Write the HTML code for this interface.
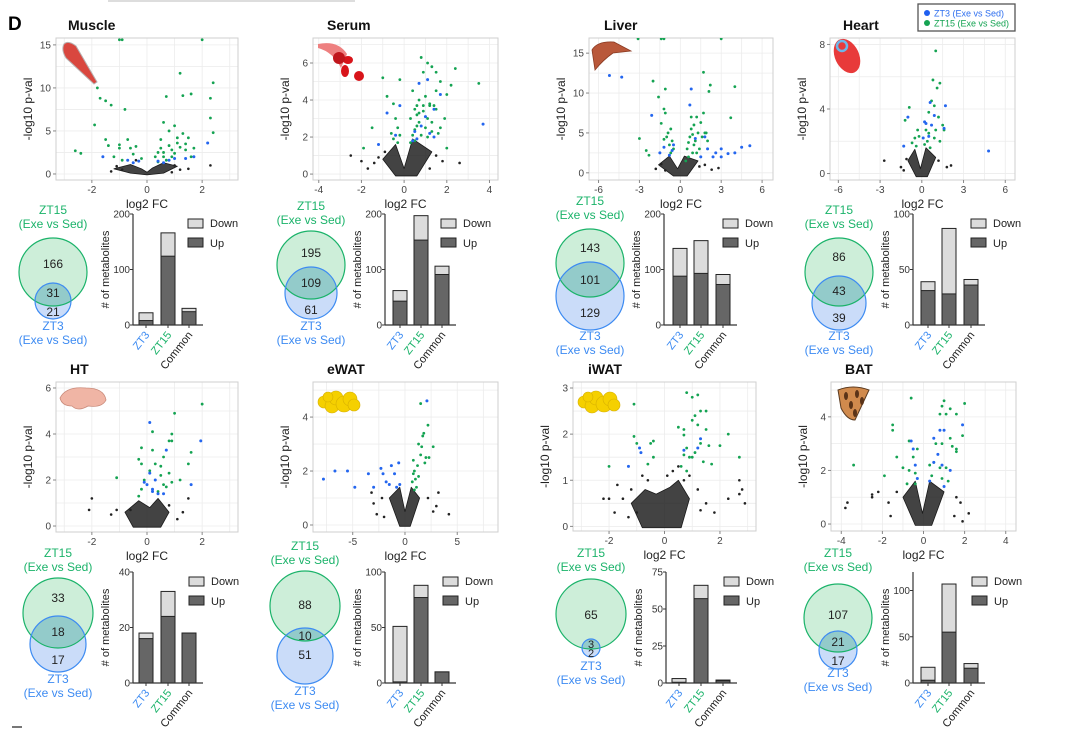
<!DOCTYPE html>
<html><head><meta charset="utf-8">
<style>
html,body{margin:0;padding:0;background:#fff;}
svg{display:block;font-family:"Liberation Sans",Arial,sans-serif;}
</style></head>
<body>
<svg id="fig" width="1080" height="730" viewBox="0 0 1080 730" xmlns="http://www.w3.org/2000/svg">
<rect x="108" y="0" width="247" height="2" fill="#ddd"/>
<text x="8" y="30" font-size="19" font-weight="bold">D</text>
<rect x="12" y="726" width="10" height="2" fill="#777"/>
<g>
<rect x="918" y="4" width="97" height="27" fill="#fff" stroke="#555" stroke-width="1.3"/>
<circle cx="927" cy="13" r="3" fill="#1f5ff0"/>
<text x="934" y="16.5" font-size="9" fill="#2f6fef">ZT3 (Exe vs Sed)</text>
<circle cx="927" cy="23" r="3" fill="#14a352"/>
<text x="934" y="26.5" font-size="9" fill="#14a352">ZT15 (Exe vs Sed)</text>
</g>
</svg>
<script>
// ===== DATA =====
const categories = ["ZT3","ZT15","Common"];
const tissues = ["Muscle","Serum","Liver","Heart","HT","eWAT","iWAT","BAT"];
const upMuscle=[8,124,24], totMuscle=[22,166,30];
const upSerum=[43,153,91], totSerum=[62,197,106];
const upLiver=[88,93,73], totLiver=[138,152,91];
const upHeart=[31,28,36], totHeart=[39,87,41];
const upHT=[16,24,18], totHT=[18,33,18];
const upEWAT=[1,77,10], totEWAT=[51,88,10];
const upIWAT=[0.5,57,1.5], totIWAT=[3,66,2];
const upBAT=[3,55,16], totBAT=[17,107,21];
const vennMuscle=[166,31,21], vennSerum=[195,109,61], vennLiver=[143,101,129], vennHeart=[86,43,39];
const vennHT=[33,18,17], vennEWAT=[88,10,51], vennIWAT=[65,3,2], vennBAT=[107,21,17];
const barTicksMuscle=[0,100,200], barTicksSerum=[0,100,200], barTicksLiver=[0,100,200], barTicksHeart=[0,50,100];
const barTicksHT=[0,20,40], barTicksEWAT=[0,50,100], barTicksIWAT=[0,25,50,75], barTicksBAT=[0,50,100];
const vxTicksMuscle=[-2,0,2], vyTicksMuscle=[0,5,10,15];
const vxTicksSerum=[-4,-2,0,2,4], vyTicksSerum=[0,2,4,6];
const vxTicksLiver=[-6,-3,0,3,6], vyTicksLiver=[0,5,10,15];
const vxTicksHeart=[-6,-3,0,3,6], vyTicksHeart=[0,4,8];
const vxTicksHT=[-2,0,2], vyTicksHT=[0,2,4,6];
const vxTicksEWAT=[-5,0,5], vyTicksEWAT=[0,2,4];
const vxTicksIWAT=[-2,0,2], vyTicksIWAT=[0,1,2,3];
const vxTicksBAT=[-4,-2,0,2,4], vyTicksBAT=[0,2,4];
const greenMuscle=[[-2.6,2.7],[-2.4,2.4],[-1.8,10],[-1.7,8.8],[-1.9,5.7],[-1.5,8.5],[-1.3,8],[-0.8,7.5],[-1.5,4],[-1.4,3.3],[-1,3],[-1,3.4],[-0.7,4],[-0.6,3],[-0.4,3.2],[-0.5,2.3],[-1.2,2],[0.6,6],[0.7,9],[1.2,11.7],[1.3,9.1],[1.6,9.3],[2.4,10.6],[2.3,8.8],[2.4,4.8],[2.3,6.5],[0.5,4],[0.8,5],[1,5.6],[1.3,4.7],[1.5,4.2],[0.5,3],[0.6,2.5],[0.8,3.3],[1,2.4],[1.2,3.1],[1.4,2.8],[1.6,2],[0.3,2],[0.4,2.5],[0.7,1.6],[0.9,2],[1.1,4.2],[1.7,3],[-0.2,1.8],[-0.9,1.6],[-1,15.6],[2,15.6],[-0.9,15.6],[0.4,1.4],[0.6,2],[0.9,2.8],[1.1,3.6],[1.4,3.5]];
const blueMuscle=[[-1.6,2],[-0.7,1.6],[-0.5,1.3],[-0.3,1.5],[0.4,1.5],[0.6,1.3],[1,1.8],[1.4,1.8],[2.2,3.6],[1.7,2],[0.8,1.6]];
const blackMuscle=[[2.3,1],[-0.9,0.5],[1.2,0.5],[-0.4,1.6],[-1.1,0.9],[1.0,1.0],[0.9,0.2],[-1.3,0.3],[1.5,0.6]];
const coreMuscle=[[-1.2,0.6],[-0.6,1.1],[-0.2,0.6],[0,0.2],[0.2,0.7],[0.6,1.3],[1.1,0.9],[0.6,0.1],[0,-0.1],[-0.6,0.1]];
const greenSerum=[[-1,5.2],[-0.8,4.2],[-0.2,5.1],[-0.5,3.8],[-1.5,2.5],[-1.9,1.4],[-0.4,3],[-0.3,2.5],[0.3,3],[0.4,4.5],[0.5,2.4],[0.6,3.2],[0.7,4],[0.8,6.3],[0.9,5.5],[1.1,6],[1.3,5.8],[1.5,5.5],[1.7,5],[1.5,4.5],[1.2,3.8],[1,4.2],[0.9,3.4],[1.1,3],[1.3,2.8],[1.5,3.5],[1.7,2.5],[1.9,3],[2,4.3],[2.2,4.8],[2.4,5.7],[1.6,2.2],[1,2.5],[0.7,2.8],[0.5,1.8],[0.3,1.7],[-0.3,1.7],[-0.6,2.2],[2,1.4],[3.5,4.9],[0.6,3.7],[0.9,3.7],[1.2,3.7],[1.4,3.7],[0.4,2.1],[0.6,2.6],[0.8,2.1],[0.5,3.5],[0.7,3.3],[1.1,2.0],[1.3,2.3],[-0.5,1.9],[-0.2,2.1]];
const blueSerum=[[-0.8,3.3],[-1.2,1.6],[-0.4,2.1],[0.7,4.9],[0.8,2.6],[1.1,5.1],[1.2,2.2],[1.4,2],[1.7,4.3],[3.7,2.7],[0.5,2.3],[1.4,3.5],[-0.2,3.7],[0.4,1.8],[0.6,1.9],[1,3.1]];
const blackSerum=[[-2.5,1],[-2,0.7],[-1.4,0.6],[1.8,0.7],[2.6,0.6],[-1.7,0.3],[-1.2,0.9],[1.5,1.0],[-0.9,1.2],[1.2,0.3]];
const coreSerum=[[-1,0.8],[-0.4,1.6],[0,0.3],[0.4,1.9],[1.3,1.2],[0.6,-0.1],[-0.4,-0.1]];
const greenLiver=[[-3,4.3],[-2.5,2.8],[-2.3,2.2],[-2,11.5],[-1.6,9.5],[-1.4,6.2],[-1.2,8],[-1.1,10.5],[-1.1,7.5],[-1,4.5],[-0.9,5],[-0.8,3.5],[-0.6,4],[-0.5,3],[-0.7,2.5],[0.5,3],[0.7,4.5],[0.8,5.5],[0.9,2.5],[1,6],[1.1,4],[1.2,7],[1.3,5],[1.5,6.3],[1.6,4.5],[1.8,5],[1.4,3],[2,4],[2.2,11],[2.1,10.2],[1.7,12.6],[1.9,5],[3.7,6.9],[4,10.8],[0.6,2],[0.4,1.5],[1,3.5],[1.2,2.5],[-3.1,16.8],[-1.4,16.8],[-1.2,16.8],[3,16.8],[0.8,7],[1.7,7.5],[0.6,3.8],[0.9,4.8],[-0.7,5.5],[-1.2,4.2]];
const blueLiver=[[-5.2,12.2],[-4.3,12],[-2.1,7.2],[-1.2,3.2],[-0.8,2.2],[-0.5,3.5],[0.8,10.5],[0.7,8.5],[1.1,4.3],[1.5,2],[2,3],[2.4,2],[3,3],[3.5,2.4],[4,2.5],[4.5,3.2],[5.1,3.4],[2.6,2.5],[1.8,4.5],[3,2],[-1.5,2.5],[-0.6,2.8]];
const blackLiver=[[-1.8,0.5],[2.3,0.4],[1.8,1],[-1.1,0.3],[-1.4,1.1],[1.4,0.8],[2.8,0.6]];
const coreLiver=[[-1.6,1],[-0.8,2.1],[-0.2,0.5],[0.3,2.1],[1.3,1.5],[0.5,-0.4],[-0.5,-0.4]];
const greenHeart=[[1,7.6],[0.8,5.8],[1.1,5.3],[1.3,5.6],[0.7,4.5],[0.9,4.2],[-0.9,4.1],[-1.2,3.3],[0.5,3.8],[1.2,3.5],[1.5,3],[1.6,2.7],[0.9,2.2],[0.5,2.5],[-0.3,2.7],[-0.5,2.2],[-0.7,1.9],[-0.4,1.7],[0.2,1.8],[0.4,2],[0.6,1.6],[1.3,2],[-0.2,2.3],[1,2.7],[0.3,2.7]];
const blueHeart=[[0.6,4.4],[0.9,3.6],[1.7,4.2],[-1,3.5],[0.3,3.1],[0.7,3],[1.6,2.8],[0.5,2.3],[-1.3,1.7],[4.8,1.4],[0.1,2.2],[0.2,3.2]];
const blackHeart=[[-2.7,0.8],[-1.5,0.4],[1.8,0.4],[2.1,0.5],[-1.3,0.2],[-1.1,0.9],[1.2,0.8]];
const coreHeart=[[-1,0.8],[-0.5,1.5],[-0.1,0.3],[0.3,1.6],[1,1],[0.4,-0.2],[-0.4,-0.2]];
const greenHT=[[2,5.3],[1,4.9],[0.2,4.1],[0.9,4],[0.8,3.7],[0.9,3.7],[-0.2,3.4],[0.2,3.3],[1.6,3.2],[-0.3,2.9],[0.6,3],[0.3,2.7],[0.5,2.6],[1.5,2.7],[-0.2,2.7],[0.1,2.4],[0.5,2.2],[0.8,2.3],[-1.1,2.1],[1.2,2],[0.6,1.8],[0.9,1.9],[-0.1,2],[0.4,1.5],[0.7,1.7],[-0.2,1.6],[-0.3,1.3]];
const blueHT=[[0.1,4.5],[0.7,3.3],[1.95,3.7],[0.1,2.3],[0.3,2],[0,1.8],[0.4,1.4],[0.2,1.5],[0.6,1.4],[-0.1,1.9],[1.6,1.8],[0.2,1.6]];
const blackHT=[[-2,1.2],[-2.1,0.7],[-1.1,0.7],[-0.6,0.7],[1.3,0.6],[1.5,1.2],[-1.3,0.5],[0.8,0.9],[1.1,0.3]];
const coreHT=[[-0.8,0.6],[-0.3,1.1],[0.1,0.8],[0.4,1.2],[0.8,0.6],[0.5,-0.05],[-0.5,-0.05]];
const greenEWAT=[[1.5,4.5],[2.2,3.7],[1.8,3.4],[1.7,3.3],[1.3,3],[1.6,2.9],[2.7,2.9],[2,2.5],[2.3,2.5],[0.8,2.4],[1.2,2.2],[0.9,2],[0.8,1.9],[1,1.7],[1.3,1.8],[0.7,1.6],[1.1,1.4],[0.9,1.3],[1.9,2.3],[1.5,2.6]];
const blueEWAT=[[-6.7,2],[-5.5,2],[-4.8,1.4],[-3.5,1.9],[-2.3,2.1],[-2.1,1.9],[-1.3,2.2],[-1,1.9],[-1.8,1.6],[-1.5,1.5],[-0.8,1.4],[-0.6,2.3],[-0.5,1.5],[-3,1.4],[2.1,4.6],[-7.8,1.7]];
const blackEWAT=[[-3,0.8],[-3.2,1.2],[-2.7,0.4],[3.2,1.2],[4.2,0.4],[2.7,0.5],[-2,0.3],[3,0.7],[-2.2,1.0],[2.2,1.0]];
const coreEWAT=[[-1.5,1],[-0.5,1.4],[0,0.5],[0.6,1.4],[1.4,1],[0.5,-0.05],[-0.5,-0.05]];
const greenIWAT=[[-2,1.3],[-1.1,2.65],[-1.1,1.95],[-1,1.8],[-0.5,1.8],[-0.4,1.85],[-0.4,1.5],[-0.6,1.35],[0.5,2.15],[0.7,2.1],[0.7,1.98],[0.8,2.9],[1,2.8],[1.2,2.85],[1,2.3],[1.2,2.2],[1.3,2.5],[1.5,2.5],[1.5,2.1],[1.1,2.4],[0.8,1.7],[0.9,1.5],[1,1.5],[1.1,1.6],[0.6,1.3],[0.8,1.2],[1.4,1.4],[1.7,1.35],[2,1.75],[2.3,2],[2.7,1.5],[1.3,1.8],[1.6,1.75],[0.7,1.55]];
const blueIWAT=[[-0.9,1.7],[-0.85,1.6],[-1.3,1.3],[0.7,1.65],[1.2,1.7],[1.3,1.9]];
const blackIWAT=[[-1.7,0.9],[-1.2,0.8],[-0.8,1.1],[0.7,1],[0.9,1.1],[1.5,0.5],[2.3,0.6],[2.7,0.7],[2.9,0.5],[2.8,0.8],[-2,0.6],[-1.8,0.3],[-2.2,0.6],[1.8,0.3],[-1,0.3],[1.2,0.8],[2.7,1],[-1.3,0.2],[0.3,1.2],[0.5,1.3],[-1.5,0.6],[1.3,0.35],[-0.6,1.0],[0.1,1.1]];
const coreIWAT=[[-1.2,0.5],[-0.7,0.8],[-0.3,0.7],[0.2,0.85],[0.5,1],[0.9,0.6],[0.6,-0.03],[-0.8,-0.03]];
const greenBAT=[[-0.6,4.7],[1,4.6],[0.9,4.4],[1.3,4.3],[2,4.5],[0.8,4.1],[1.1,4.1],[1.6,4.1],[-1.5,3.7],[-1.5,3.5],[1.9,3.3],[-0.7,3.1],[0.6,3],[0.9,3],[1.4,2.9],[1.6,2.7],[1.3,3.2],[-0.3,2.8],[-0.5,2.5],[-1,2.1],[-1.3,2.5],[-1.9,1.8],[-0.7,2],[-0.4,1.9],[0.5,2.3],[0.8,2.1],[1.1,2.1],[0.4,1.8],[0.9,1.7],[1.2,1.6],[-0.4,1.5],[-0.8,1.5],[-3.4,2.2],[1.6,2.8],[0.3,2.2]];
const blueBAT=[[-0.6,3.1],[-0.5,2.8],[-0.4,2.2],[-0.3,1.7],[0.8,3.5],[1,3.5],[1.9,3.7],[0.7,2.6],[0.5,2.3],[0.9,2.2],[1.3,2],[1,1.4],[0.3,1.6],[0.5,3.2]];
const blackBAT=[[-3.8,0.6],[-3.7,0.8],[-2.5,1.1],[-2.2,1.2],[-1.7,0.8],[-1.6,0.3],[1.8,0.8],[2.2,0.4],[1.9,0.1],[1.5,0.3],[-2.5,1],[1.6,1],[-1.3,1.2]];
const coreBAT=[[-1,1],[-0.4,1.6],[-0.05,0.4],[0.3,1.6],[1,1.2],[0.4,-0.05],[-0.4,-0.05]];

// ===== LAYOUT =====
const NS="http://www.w3.org/2000/svg";
const svg=document.getElementById('fig');
function mk(tag,attrs,parent,txt){const e=document.createElementNS(NS,tag);for(const k in attrs)e.setAttribute(k,attrs[k]);if(txt!==undefined)e.textContent=txt;(parent||svg).appendChild(e);return e;}
const GREEN="#14a352", BLUE="#2466ef", VG="#1bb36a", VB="#3d8bf2";

const panels=[
 {name:"Muscle",key:"muscle",title:[68,30],box:[56,38,238,180],xr:[-3.3,3.3],yr:[-0.7,15.8],xt:vxTicksMuscle,yt:vyTicksMuscle,g:greenMuscle,b:blueMuscle,k:blackMuscle,c:coreMuscle,
  venn:vennMuscle,vg:[53,272,34],vb:[53,301,18],vl:[214,330],vy:[268,297,316],bar:[133,214,325],bt:barTicksMuscle,up:upMuscle,tot:totMuscle,bx:[146,168,189],lg:188,icon:"muscle"},
 {name:"Serum",key:"serum",title:[327,30],box:[313,38,498,180],xr:[-4.27,4.4],yr:[-0.32,7.35],xt:vxTicksSerum,yt:vyTicksSerum,g:greenSerum,b:blueSerum,k:blackSerum,c:coreSerum,
  venn:vennSerum,vg:[311,265,34],vb:[311,293,26],vl:[210,330],vy:[257,287,314],bar:[385,214,325],bt:barTicksSerum,up:upSerum,tot:totSerum,bx:[400,421,442],lg:441,icon:"serum"},
 {name:"Liver",key:"liver",title:[604,30],box:[589,38,773,180],xr:[-6.7,6.8],yr:[-0.9,16.9],xt:vxTicksLiver,yt:vyTicksLiver,g:greenLiver,b:blueLiver,k:blackLiver,c:coreLiver,
  venn:vennLiver,vg:[590,263,34],vb:[590,296,34],vl:[205,340],vy:[252,284,317],bar:[664,214,325],bt:barTicksLiver,up:upLiver,tot:totLiver,bx:[680,701,723],lg:723,icon:"liver"},
 {name:"Heart",key:"heart",title:[843,30],box:[830,38,1015,180],xr:[-6.6,6.7],yr:[-0.4,8.4],xt:vxTicksHeart,yt:vyTicksHeart,g:greenHeart,b:blueHeart,k:blackHeart,c:coreHeart,
  venn:vennHeart,vg:[839,272,34],vb:[839,303,27],vl:[214,340],vy:[261,295,322],bar:[913,214,325],bt:barTicksHeart,up:upHeart,tot:totHeart,bx:[928,949,971],lg:971,icon:"heart"},
 {name:"HT",key:"ht",title:[70,374],box:[56,382,238,532],xr:[-3.3,3.3],yr:[-0.26,6.26],xt:vxTicksHT,yt:vyTicksHT,g:greenHT,b:blueHT,k:blackHT,c:coreHT,
  venn:vennHT,vg:[58,613,35],vb:[58,644,28],vl:[557,683],vy:[602,636,664],bar:[133,572,683],bt:barTicksHT,up:upHT,tot:totHT,bx:[146,168,189],lg:189,icon:"ht"},
 {name:"eWAT",key:"ewat",title:[327,374],box:[313,382,498,532],xr:[-8.8,8.9],yr:[-0.26,5.3],xt:vxTicksEWAT,yt:vyTicksEWAT,g:greenEWAT,b:blueEWAT,k:blackEWAT,c:coreEWAT,
  venn:vennEWAT,vg:[305,606,35],vb:[305,656,28],vl:[550,695],vy:[609,640,659],bar:[385,572,683],bt:barTicksEWAT,up:upEWAT,tot:totEWAT,bx:[400,421,442],lg:443,icon:"fat"},
 {name:"iWAT",key:"iwat",title:[588,374],box:[573,382,756,531],xr:[-3.3,3.3],yr:[-0.1,3.13],xt:vxTicksIWAT,yt:vyTicksIWAT,g:greenIWAT,b:blueIWAT,k:blackIWAT,c:coreIWAT,
  venn:vennIWAT,vg:[591,614,35],vb:[591,648,9],vl:[557,670],vy:[619,648,657],bar:[666,572,683],bt:barTicksIWAT,up:upIWAT,tot:totIWAT,bx:[679,701,723],lg:724,icon:"fat"},
 {name:"BAT",key:"bat",title:[845,374],box:[831,382,1016,531],xr:[-4.5,4.5],yr:[-0.26,5.3],xt:vxTicksBAT,yt:vyTicksBAT,g:greenBAT,b:blueBAT,k:blackBAT,c:coreBAT,
  venn:vennBAT,vg:[838,618,34],vb:[838,650,19],vl:[557,677],vy:[619,646,665],bar:[913,572,683],bt:barTicksBAT,up:upBAT,tot:totBAT,bx:[928,949,971],lg:972,icon:"bat",barMax:120}
];

function drawIcon(p,g){
  const [x0,y0]=[p.box[0],p.box[1]];
  if(p.icon==="muscle"){
    mk('path',{d:`M${x0+8},${y0+6} Q${x0+12},${y0+2} ${x0+20},${y0+8} L${x0+41},${y0+44} L${x0+38},${y0+46} L${x0+10},${y0+20} Q${x0+5},${y0+12} ${x0+8},${y0+6}Z`,fill:"#d9473f",stroke:"#b8b0b0","stroke-width":1},g);
  } else if(p.icon==="serum"){
    mk('path',{d:`M${x0+5},${y0+6} Q${x0+25},${y0+2} ${x0+34},${y0+16} L${x0+28},${y0+30} Q${x0+20},${y0+14} ${x0+5},${y0+10}Z`,fill:"#ee8080"},g);
    mk('ellipse',{cx:x0+35,cy:y0+22,rx:5,ry:4,fill:"#d8141a"},g);
    mk('ellipse',{cx:x0+32,cy:y0+33,rx:4,ry:6,fill:"#d8141a"},g);
    mk('ellipse',{cx:x0+46,cy:y0+38,rx:5,ry:5,fill:"#d8141a"},g);
    mk('ellipse',{cx:x0+26,cy:y0+20,rx:6,ry:6,fill:"#c0161c"},g);
  } else if(p.icon==="liver"){
    mk('path',{d:`M${x0+6},${y0+32} L${x0+3},${y0+12} Q${x0+8},${y0+3} ${x0+25},${y0+4} L${x0+42},${y0+13} L${x0+24},${y0+15} Q${x0+14},${y0+22} ${x0+6},${y0+32}Z`,fill:"#b9583a",stroke:"#8a3a22","stroke-width":0.8},g);
  } else if(p.icon==="heart"){
    mk('ellipse',{cx:x0+17,cy:y0+18,rx:12,ry:18,fill:"#e83a3a",transform:`rotate(-25 ${x0+17} ${y0+18})`},g);
    mk('circle',{cx:x0+12,cy:y0+8,r:5,fill:"none",stroke:"#6db6e8","stroke-width":2.5},g);
  } else if(p.icon==="ht"){
    mk('path',{d:`M${x0+4},${y0+16} Q${x0+10},${y0+4} ${x0+30},${y0+6} Q${x0+48},${y0+6} ${x0+50},${y0+18} Q${x0+46},${y0+26} ${x0+32},${y0+24} Q${x0+22},${y0+30} ${x0+16},${y0+24} Q${x0+6},${y0+24} ${x0+4},${y0+16}Z`,fill:"#f0b5a5",stroke:"#c98a7a","stroke-width":0.8},g);
  } else if(p.icon==="fat"){
    const bl=[[10,16,6],[18,20,7],[22,12,7],[30,18,8],[36,13,7],[40,19,6],[14,11,5]];
    bl.forEach(b=>mk('circle',{cx:x0+b[0]+1,cy:y0+b[1]+4,r:b[2],fill:"#f5d000",stroke:"#d7b000","stroke-width":0.6},g));
  } else if(p.icon==="bat"){
    mk('path',{d:`M${x0+7},${y0+8} Q${x0+22},${y0+2} ${x0+38},${y0+8} L${x0+24},${y0+38} Q${x0+16},${y0+38} ${x0+10},${y0+26}Z`,fill:"#d08a4d",stroke:"#5a3a20","stroke-width":1},g);
    [[15,14],[26,12],[31,19],[20,23],[24,31]].forEach(s=>mk('ellipse',{cx:x0+s[0],cy:y0+s[1],rx:2,ry:4,fill:"#5a3318"},g));
  }
}

panels.forEach(p=>{
  const G=mk('g',{});
  
  
  const tt=mk('text',{x:p.title[0],y:p.title[1],"font-size":14,"font-weight":"bold",fill:"#111"},G,p.name);
  
  
  const [x0,y0,x1,y1]=p.box;
  const sx=v=>x0+(v-p.xr[0])/(p.xr[1]-p.xr[0])*(x1-x0);
  const sy=v=>y1-(v-p.yr[0])/(p.yr[1]-p.yr[0])*(y1-y0);
  const V=mk('g',{},G);
  
  
  mk('rect',{x:x0,y:y0,width:x1-x0,height:y1-y0,fill:"#fff"},V);
  const xs=p.xt, ys=p.yt;
  const dx=xs[1]-xs[0], dy=ys[1]-ys[0];
  for(let v=xs[0]-dx;v<=xs[xs.length-1]+dx;v+=dx/2){const X=sx(v);if(X>x0&&X<x1)mk('line',{x1:X,x2:X,y1:y0,y2:y1,stroke:"#ececec","stroke-width":0.8},V);}
  for(let v=ys[0];v<=p.yr[1];v+=dy/2){const Y=sy(v);if(Y>y0&&Y<y1)mk('line',{x1:x0,x2:x1,y1:Y,y2:Y,stroke:"#ececec","stroke-width":0.8},V);}
  mk('rect',{x:x0,y:y0,width:x1-x0,height:y1-y0,fill:"none",stroke:"#cfcfcf","stroke-width":1},V);
  xs.forEach(v=>{mk('line',{x1:sx(v),x2:sx(v),y1:y1,y2:y1+3,stroke:"#888"},V);
    const t=mk('text',{x:sx(v),y:y1+13,"font-size":10,fill:"#444","text-anchor":"middle"},V,String(v));
    
    });
  ys.forEach(v=>{mk('line',{x1:x0-3,x2:x0,y1:sy(v),y2:sy(v),stroke:"#888"},V);
    const t=mk('text',{x:x0-5,y:sy(v)+3.5,"font-size":10,fill:"#444","text-anchor":"end"},V,String(v));
    
    });
  const xl=mk('text',{x:(x0+x1)/2,y:y1+28,"font-size":12,fill:"#222","text-anchor":"middle"},V,"log2 FC");
  
  
  const yl=mk('text',{x:0,y:0,"font-size":12,fill:"#222","text-anchor":"middle",transform:`translate(${x0-24},${(y0+y1)/2}) rotate(-90)`},V,"-log10 p-val");
  
  
  const cp=mk('clipPath',{id:'clip-'+p.key},V); mk('rect',{x:x0,y:y0,width:x1-x0,height:y1-y0},cp);
  const D=mk('g',{"clip-path":`url(#clip-${p.key})`},V);
  const core=mk('polygon',{points:p.c.map(q=>sx(q[0])+','+sy(q[1])).join(' '),fill:"#1a1a1a","fill-opacity":0.82,stroke:"#1a1a1a","stroke-width":0.8,"stroke-linejoin":"round"},D);
  
  
  p.k.forEach(q=>{const c=mk('circle',{cx:sx(q[0]),cy:sy(q[1]),r:1.3,fill:"#222"},D);
    
    });
  p.g.forEach(q=>{const c=mk('circle',{cx:sx(q[0]),cy:sy(q[1]),r:1.4,fill:GREEN},D);
    
    });
  p.b.forEach(q=>{const c=mk('circle',{cx:sx(q[0]),cy:sy(q[1]),r:1.5,fill:BLUE},D);
    
    });
  const IG=mk('g',{},V);
  
  
  drawIcon(p,IG);
  const W=mk('g',{},G);
  
  
  const [gx,gy,gr]=p.vg,[bx,by,br]=p.vb;
  mk('circle',{cx:gx,cy:gy,r:gr,fill:"#cdeed9"},W);
  mk('circle',{cx:bx,cy:by,r:br,fill:"#cadcf9"},W);
  const vc=mk('clipPath',{id:'vc-'+p.key},W); mk('circle',{cx:gx,cy:gy,r:gr},vc);
  mk('circle',{cx:bx,cy:by,r:br,fill:"#93cbca","clip-path":`url(#vc-${p.key})`},W);
  mk('circle',{cx:gx,cy:gy,r:gr,fill:"none",stroke:VG,"stroke-width":1.2},W);
  mk('circle',{cx:bx,cy:by,r:br,fill:"none",stroke:VB,"stroke-width":1.2},W);
  const fs=p.key==="iwat"?[12,11,11]:[12,12,12];
  p.venn.forEach((n,i)=>{const t=mk('text',{x:gx,y:p.vy[i],"font-size":fs[i],fill:"#222","text-anchor":"middle"},W,String(n));
    
    });
  [["ZT15",p.vl[0],VG],["(Exe vs Sed)",p.vl[0]+14,VG],["ZT3",p.vl[1],VB],["(Exe vs Sed)",p.vl[1]+14,VB]].forEach(a=>{
    const t=mk('text',{x:gx,y:a[1],"font-size":12,fill:a[2],"text-anchor":"middle"},W,a[0]);
    
    });
  const B=mk('g',{},G);
  
  
  const [ax,at,ab]=p.bar;
  const bmax=p.barMax||p.bt[p.bt.length-1];
  const by_=v=>ab-v/bmax*(ab-at);
  p.bt.forEach(v=>{mk('line',{x1:ax-3,x2:ax,y1:by_(v),y2:by_(v),stroke:"#333"},B);
    const t=mk('text',{x:ax-3,y:by_(v)+3.5,"font-size":10,fill:"#333","text-anchor":"end"},B,String(v));
    
    });
  const byl=mk('text',{x:0,y:0,"font-size":11,fill:"#222","text-anchor":"middle",transform:`translate(${ax-24},${(at+ab)/2}) rotate(-90)`},B,"# of metabolites");
  
  
  const bw=14;
  categories.forEach((cat,i)=>{
    const cx=p.bx[i];
    const down=mk('rect',{x:cx-bw/2,y:by_(p.tot[i]),width:bw,height:by_(0)-by_(p.tot[i]),fill:"#dcdcdc",stroke:"#222","stroke-width":1},B);
    
    
    const up=mk('rect',{x:cx-bw/2,y:by_(p.up[i]),width:bw,height:by_(0)-by_(p.up[i]),fill:"#666",stroke:"#222","stroke-width":1},B);
    
    
    mk('line',{x1:cx,x2:cx,y1:ab,y2:ab+3,stroke:"#333"},B);
    const col=i===0?VB:(i===1?VG:"#222");
    const t=mk('text',{x:cx+4,y:ab+10,"font-size":11,fill:col,"text-anchor":"end",transform:`rotate(-52 ${cx+4} ${ab+10})`},B,cat);
    
    
  });
  mk('line',{x1:ax,x2:ax,y1:at,y2:ab,stroke:"#333","stroke-width":1.2},B);
  mk('line',{x1:ax,x2:p.bx[2]+14,y1:ab,y2:ab,stroke:"#333","stroke-width":1.2},B);
  const L=mk('g',{},B);
  
  
  mk('rect',{x:p.lg,y:at+5,width:15,height:9,fill:"#dcdcdc",stroke:"#222"},L);
  mk('text',{x:p.lg+22,y:at+13,"font-size":11,fill:"#222"},L,"Down");
  mk('rect',{x:p.lg,y:at+24,width:15,height:9,fill:"#666",stroke:"#222"},L);
  mk('text',{x:p.lg+22,y:at+33,"font-size":11,fill:"#222"},L,"Up");
});
</script>
</body></html>
